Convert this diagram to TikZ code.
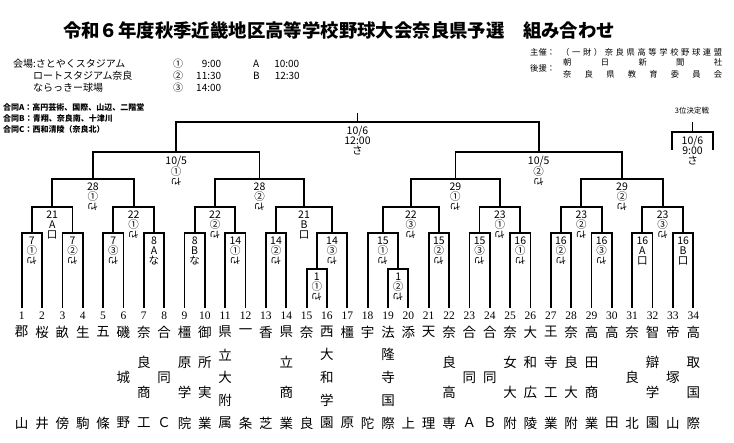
\documentclass[tikz,border=0pt]{standalone}
\usepackage{fontspec}
\setmainfont{Noto Sans CJK JP}
\newfontfamily\numfont{Liberation Serif}
\usetikzlibrary{calc}
\def\lbl{\node[anchor=north,align=center,inner sep=0pt,font=\fontsize{10.5}{10.3}\selectfont]}
\newcommand\rsa{\rotatebox[origin=c]{-90}{さ}}
\newcommand\game[5]{%
  \path ($(#2)!.5!(#3)$) coordinate (#1m);
  \coordinate (#1) at (#1m |- 0,#4);
  \draw[bracket] (#2) |- (#1) -| (#3);
  \lbl (#1l) at ([yshift=-3.5pt]#1) {#5};}

\begin{document}
\begin{tikzpicture}[x=1pt,y=-1pt,
  bracket/.style={line width=1.8pt},
  team/.style={inner sep=0pt,font=\fontsize{13.5}{13.5}\selectfont},
  numlbl/.style={inner sep=0pt,font=\numfont\fontsize{11.5}{11.5}\selectfont},
  info/.style={anchor=west,inner sep=0pt,font=\fontsize{10}{10}\selectfont},
  small/.style={anchor=west,inner sep=0pt,font=\fontsize{8.3}{8.3}\selectfont}]
\useasboundingbox (0,0) rectangle (734,443);

\node[inner sep=0pt,font=\bfseries\fontsize{18.4}{20}\selectfont] (title) at (339,30) {令和６年度秋季近畿地区高等学校野球大会奈良県予選　組み合わせ};

\node[info] (venue1) at (13,64) {会場:さとやくスタジアム};
\node[info] (venue2) at (33,76) {ロートスタジアム奈良};
\node[info] (venue3) at (33,88) {ならっきー球場};
\node[info] (time1) at (173,64) {①\makebox[38pt][r]{9:00}};
\node[info] (time2) at (173,76) {②\makebox[38pt][r]{11:30}};
\node[info] (time3) at (173,88) {③\makebox[38pt][r]{14:00}};
\node[info] (timeA) at (253,64) {A\makebox[40pt][r]{10:00}};
\node[info] (timeB) at (253,76) {B\makebox[40pt][r]{12:30}};

\node[anchor=west,inner sep=0pt,font=\bfseries\fontsize{8}{8}\selectfont] (jointA) at (3,107) {合同A：高円芸術、国際、山辺、二階堂};
\node[anchor=west,inner sep=0pt,font=\bfseries\fontsize{8}{8}\selectfont] (jointB) at (3,118) {合同B：青翔、奈良南、十津川};
\node[anchor=west,inner sep=0pt,font=\bfseries\fontsize{8}{8}\selectfont] (jointC) at (3,129) {合同C：西和清陵（奈良北）};

\node[small] (host) at (530,52) {主催：};
\node[small] (hostname) at (561,52) {\makebox[161pt][s]{（ 一 財 ） 奈 良 県 高 等 学 校 野 球 連 盟}};
\node[small] (support) at (530,68) {後援：};
\node[small] (support1) at (563,62) {\makebox[159pt][s]{朝 日 新 聞 社}};
\node[small] (support2) at (563,74) {\makebox[159pt][s]{奈 良 県 教 育 委 員 会}};

\foreach \i/\n/\s in {1/2/{郡,山},2/2/{桜,井},3/2/{畝,傍},4/2/{生,駒},5/2/{五,條},
  6/3/{磯,城,野},7/4/{奈,良,商,工},8/3/{合,同,Ｃ},9/4/{橿,原,学,院},10/4/{御,所,実,業},
  11/5/{県,立,大,附,属},12/2/{一,条},13/2/{香,芝},14/4/{県,立,商,業},15/2/{奈,良},
  16/5/{西,大,和,学,園},17/2/{橿,原},18/2/{宇,陀},19/5/{法,隆,寺,国,際},20/2/{添,上},
  21/2/{天,理},22/4/{奈,良,高,専},23/3/{合,同,Ａ},24/3/{合,同,Ｂ},25/4/{奈,女,大,附},
  26/4/{大,和,広,陵},27/4/{王,寺,工,業},28/4/{奈,良,大,附},29/4/{高,田,商,業},
  30/2/{高,田},31/3/{奈,良,北},32/4/{智,辯,学,園},33/3/{帝,塚,山},34/4/{高,取,国,際}} {
  \coordinate (t\i) at ({21.7+(\i-1)*20.35},308);
  \node[numlbl] (num\i) at ({21.7+(\i-1)*20.35},315.5) {\i};
  \foreach \c [count=\k] in \s
    \node[team] (c\i-\k) at ({21.7+(\i-1)*20.35},{332+(\k-1)*91/(\n-1)}) {\c};
}

\game{a1}{t1}{t2}{233}{7\\①\\\rsa}
\game{a2}{t3}{t4}{233}{7\\②\\\rsa}
\game{a3}{t5}{t6}{233}{7\\③\\\rsa}
\game{a4}{t7}{t8}{233}{8\\A\\な}
\game{a5}{t9}{t10}{233}{8\\B\\な}
\game{a6}{t11}{t12}{233}{14\\①\\\rsa}
\game{a7}{t13}{t14}{233}{14\\②\\\rsa}
\game{a8}{t15}{t16}{269}{1\\①\\\rsa}
\game{a9}{a8}{t17}{233}{14\\③\\\rsa}
\game{a10}{a1}{a2}{207}{21\\A\\口}
\game{a11}{a3}{a4}{207}{22\\①\\\rsa}
\game{a12}{a5}{a6}{207}{22\\②\\\rsa}
\game{a13}{a7}{a9}{207}{21\\B\\口}
\game{a14}{a10}{a11}{179}{28\\①\\\rsa}
\game{a15}{a12}{a13}{179}{28\\②\\\rsa}
\game{semiA}{a14}{a15}{152}{10/5\\①\\\rsa}

\game{b1}{t19}{t20}{269}{1\\②\\\rsa}
\game{b2}{t18}{b1}{233}{15\\①\\\rsa}
\game{b3}{t21}{t22}{233}{15\\②\\\rsa}
\game{b4}{t23}{t24}{233}{15\\③\\\rsa}
\game{b5}{t25}{t26}{233}{16\\①\\\rsa}
\game{b6}{t27}{t28}{233}{16\\②\\\rsa}
\game{b7}{t29}{t30}{233}{16\\③\\\rsa}
\game{b8}{t31}{t32}{233}{16\\A\\口}
\game{b9}{t33}{t34}{233}{16\\B\\口}
\game{b10}{b2}{b3}{207}{22\\③\\\rsa}
\game{b11}{b4}{b5}{207}{23\\①\\\rsa}
\game{b12}{b6}{b7}{207}{23\\②\\\rsa}
\game{b13}{b8}{b9}{207}{23\\③\\\rsa}
\game{b14}{b10}{b11}{179}{29\\①\\\rsa}
\game{b15}{b12}{b13}{179}{29\\②\\\rsa}
\game{semiB}{b14}{b15}{152}{10/5\\②\\\rsa}

\game{final}{semiA}{semiB}{122}{10/6\\12:00\\さ}
\coordinate (champ) at (final |- 0,113);
\draw[bracket] (final) -- (champ);

\node[inner sep=0pt,font=\fontsize{7.5}{7.5}\selectfont] (third) at (692,111) {3位決定戦};
\coordinate (thirdL) at (672,150);
\coordinate (thirdR) at (713,150);
\game{thirdM}{thirdL}{thirdR}{132}{10/6\\9:00\\さ}
\coordinate (thirdtop) at (thirdM |- 0,122);
\draw[bracket] (thirdM) -- (thirdtop);
\end{tikzpicture}
\end{document}
